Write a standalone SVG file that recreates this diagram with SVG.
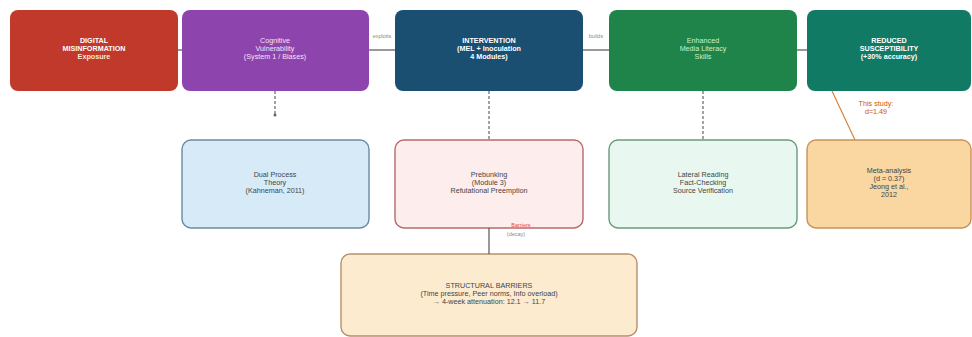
<svg xmlns="http://www.w3.org/2000/svg" width="972" height="337" viewBox="0 0 972 337">
<style>
text{font-family:"Liberation Sans","DejaVu Sans",sans-serif;font-size:7.2px;text-anchor:middle}
.b{font-weight:bold;fill:#ffffff}
.lt{fill:#f3e3f8}
.lg{fill:#c8f2d4}
.dk{fill:#444444}
.lbl{font-size:5.5px;fill:#888888}
.ln{stroke:#555555;stroke-width:1.2;fill:none}
.dash{stroke:#666666;stroke-width:1.2;stroke-dasharray:3 2;fill:none}
</style>
<rect width="972" height="337" fill="#ffffff"/>
<g id="n1">
<rect x="10" y="10" width="168" height="81" rx="8" fill="#c0392b"/>
<text class="b" x="94" y="43">DIGITAL</text>
<text class="b" x="94" y="51">MISINFORMATION</text>
<text class="b" x="94" y="59" style="fill:#fde6d0">Exposure</text>
</g>
<g id="n2">
<rect x="182" y="10" width="187" height="81" rx="8" fill="#8e44ad"/>
<text class="lt" x="275" y="43">Cognitive</text>
<text class="lt" x="275" y="51">Vulnerability</text>
<text class="lt" x="275" y="59">(System 1 / Biases)</text>
</g>
<g id="n3">
<rect x="395" y="10" width="188" height="81" rx="8" fill="#1b4f72"/>
<text class="b" x="489" y="43">INTERVENTION</text>
<text class="b" x="489" y="51">(MEL + Inoculation</text>
<text class="b" x="489" y="59">4 Modules)</text>
</g>
<g id="n4">
<rect x="609" y="10" width="188" height="81" rx="8" fill="#1e8449"/>
<text class="lg" x="703" y="43">Enhanced</text>
<text class="lg" x="703" y="51">Media Literacy</text>
<text class="lg" x="703" y="59">Skills</text>
</g>
<g id="n5">
<rect x="807" y="10" width="164" height="81" rx="8" fill="#117a65"/>
<text class="b" x="889" y="43">REDUCED</text>
<text class="b" x="889" y="51">SUSCEPTIBILITY</text>
<text class="b" x="889" y="59">(+30% accuracy)</text>
</g>
<g id="n6">
<rect x="182" y="140" width="187" height="88" rx="9" fill="#d6eaf8" stroke="#6b8aa3" stroke-width="1.4"/>
<text class="dk" x="275" y="177">Dual Process</text>
<text class="dk" x="275" y="185">Theory</text>
<text class="dk" x="275" y="193">(Kahneman, 2011)</text>
</g>
<g id="n7">
<rect x="395" y="140" width="188" height="88" rx="9" fill="#fdedec" stroke="#b86a6a" stroke-width="1.4"/>
<text class="dk" x="489" y="177">Prebunking</text>
<text class="dk" x="489" y="185">(Module 3)</text>
<text class="dk" x="489" y="193">Refutational Preemption</text>
</g>
<g id="n8">
<rect x="609" y="140" width="188" height="88" rx="9" fill="#e8f8f0" stroke="#6a9a7a" stroke-width="1.4"/>
<text class="dk" x="703" y="177">Lateral Reading</text>
<text class="dk" x="703" y="185">Fact-Checking</text>
<text class="dk" x="703" y="193">Source Verification</text>
</g>
<g id="n9">
<rect x="807" y="140" width="164" height="88" rx="9" fill="#fad7a0" stroke="#c8925a" stroke-width="1.4"/>
<text class="dk" x="889" y="173">Meta-analysis</text>
<text class="dk" x="889" y="181">(d = 0.37)</text>
<text class="dk" x="889" y="189">Jeong et al.,</text>
<text class="dk" x="889" y="197">2012</text>
</g>
<g id="n10">
<rect x="341" y="254" width="296" height="82" rx="9" fill="#fdebd0" stroke="#b8906a" stroke-width="1.4"/>
<text class="dk" x="489" y="288">STRUCTURAL BARRIERS</text>
<text class="dk" x="489" y="296">(Time pressure, Peer norms, Info overload)</text>
<text class="dk" x="489" y="304">→ 4-week attenuation: 12.1 → 11.7</text>
</g>
<g id="connectors">
<line class="ln" x1="178" y1="50" x2="182" y2="50"/>
<line class="ln" x1="369" y1="50" x2="395" y2="50"/>
<line class="ln" x1="583" y1="50" x2="609" y2="50"/>
<line class="ln" x1="797" y1="50" x2="807" y2="50"/>
<text class="lbl" x="382" y="38">exploits</text>
<text class="lbl" x="596" y="38">builds</text>
<line class="dash" x1="275" y1="91" x2="275" y2="114"/>
<circle cx="275" cy="115" r="1.5" fill="#666666"/>
<line class="dash" x1="489" y1="91" x2="489" y2="140"/>
<line class="dash" x1="703" y1="91" x2="703" y2="140"/>
<line stroke="#d9843f" stroke-width="1.2" x1="832" y1="91" x2="855" y2="140"/>
<text x="876" y="106" style="fill:#d35400;font-size:7.2px">This study:</text>
<text x="876" y="114" style="fill:#d35400;font-size:7.2px">d=1.49</text>
<line class="ln" x1="489" y1="228" x2="489" y2="254"/>
<text x="521" y="227" style="fill:#e74c3c;font-size:5.5px">Barriers</text>
<text x="516" y="236" class="lbl">(decay)</text>
</g>
</svg>
